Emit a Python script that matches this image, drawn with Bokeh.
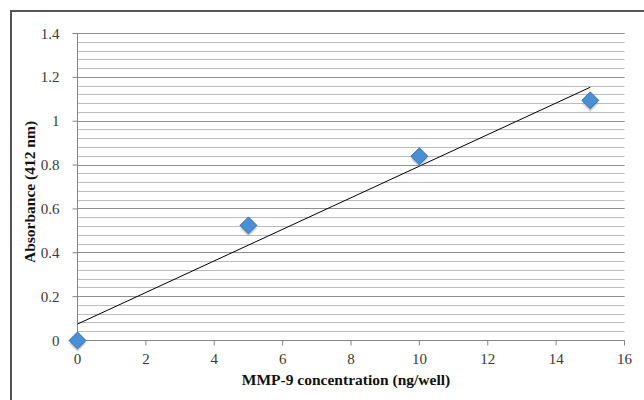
import numpy as np
from bokeh.plotting import figure
from bokeh.models import Range1d, FixedTicker, LinearAxis
from bokeh.embed import file_html
from bokeh.resources import INLINE

# Data
conc = [0, 5, 10, 15]
absorb = [0.0, 0.525, 0.84, 1.095]
x_ticks = [0, 2, 4, 6, 8, 10, 12, 14, 16]
y_ticks = [0, 0.2, 0.4, 0.6, 0.8, 1.0, 1.2, 1.4]
y_minor = [round(i * 0.04, 2) for i in range(36)]
x_lim = (0, 16)
y_lim = (0, 1.4)
x_title = "MMP-9 concentration (ng/well)"
y_title = "Absorbance (412 nm)"

# linear trendline (least squares)
slope, intercept = np.polyfit(conc, absorb, 1)
trend_x = [min(conc), max(conc)]
trend_y = [slope * x + intercept for x in trend_x]

# layout (pixels)
W, H = 644, 400
left, right, top, bottom = 77, 20, 33, 60   # axis positions
pad = 11                                    # room so the origin marker is not clipped
tick_len = 5
sx = (W - left - right) / (x_lim[1] - x_lim[0])
sy = (H - top - bottom) / (y_lim[1] - y_lim[0])

p = figure(width=W, height=H, output_backend="svg", toolbar_location=None,
           x_range=Range1d(x_lim[0] - pad / sx, x_lim[1] + 1 / sx),
           y_range=Range1d(y_lim[0] - pad / sy, y_lim[1] + 1 / sy),
           min_border_left=left - pad, min_border_right=right - 1,
           min_border_top=top - 1, min_border_bottom=bottom - pad)
p.outline_line_color = None
p.background_fill_color = "white"
p.border_fill_color = None
p.styles = {"background-color": "white",
            "box-shadow": "inset 10px 10px 0 0 white, inset 12px 12px 0 0 #555555"}

FONT = "Liberation Serif"

# second (label-only) axis on the left, so the y title sits a little above centre
title_axis = LinearAxis(ticker=FixedTicker(ticks=[]), bounds=(0.1, 1.4))
p.add_layout(title_axis, "left")

for ax in (p.xaxis[0], p.yaxis[0], title_axis):
    ax.axis_line_color = None
    ax.major_tick_line_color = None
    ax.major_tick_out = 0
    ax.major_tick_in = 0
    ax.minor_tick_line_color = None
    ax.major_label_text_font = FONT
    ax.major_label_text_font_size = "15px"
    ax.major_label_text_color = "#3a3a3a"
    ax.axis_label_text_font = FONT
    ax.axis_label_text_font_size = "15.5px"
    ax.axis_label_text_font_style = "bold"
    ax.axis_label_text_color = "#111111"

p.xaxis[0].ticker = FixedTicker(ticks=x_ticks)
p.xaxis[0].bounds = x_lim
p.yaxis[0].ticker = FixedTicker(ticks=y_ticks, minor_ticks=y_minor)
p.yaxis[0].bounds = y_lim
p.xaxis[0].axis_label = x_title
title_axis.axis_label = y_title
p.xaxis[0].major_label_standoff = 2
p.yaxis[0].major_label_standoff = 3
p.xaxis[0].axis_label_standoff = 4
title_axis.axis_label_standoff = 0
title_axis.major_label_standoff = 0

p.xgrid.grid_line_color = None
p.ygrid.grid_line_color = "#8e8e8e"
p.ygrid.grid_line_width = 1
p.ygrid.minor_grid_line_color = "#bdbdbd"
p.ygrid.minor_grid_line_width = 1
p.ygrid.cross_bounds = x_lim

# axis lines and tick marks drawn at the data origin
AX = "#868686"
p.segment(x0=[x_lim[0], x_lim[0]], y0=[y_lim[0], y_lim[0]],
          x1=[x_lim[1], x_lim[0]], y1=[y_lim[0], y_lim[1]], line_color=AX, line_width=1)
p.segment(x0=x_ticks, y0=[y_lim[0]] * len(x_ticks),
          x1=x_ticks, y1=[y_lim[0] - tick_len / sy] * len(x_ticks), line_color=AX, line_width=1)
p.segment(x0=[x_lim[0]] * len(y_ticks), y0=y_ticks,
          x1=[x_lim[0] - tick_len / sx] * len(y_ticks), y1=y_ticks, line_color=AX, line_width=1)

# trendline
p.line(trend_x, trend_y, line_color="black", line_width=1)

# marker shadow
shadow_dy = 3 / sy
p.scatter(conc, [v - shadow_dy for v in absorb], marker="square", size=12, angle=np.pi / 4,
          fill_color="#8a8a8a", fill_alpha=0.35, line_color=None)
# markers
p.scatter(conc, absorb, marker="square", size=12, angle=np.pi / 4,
          fill_color="#4a8fd4", line_color="#2f6fb0", line_width=1)

open("out.html", "w").write(file_html(p, INLINE))
